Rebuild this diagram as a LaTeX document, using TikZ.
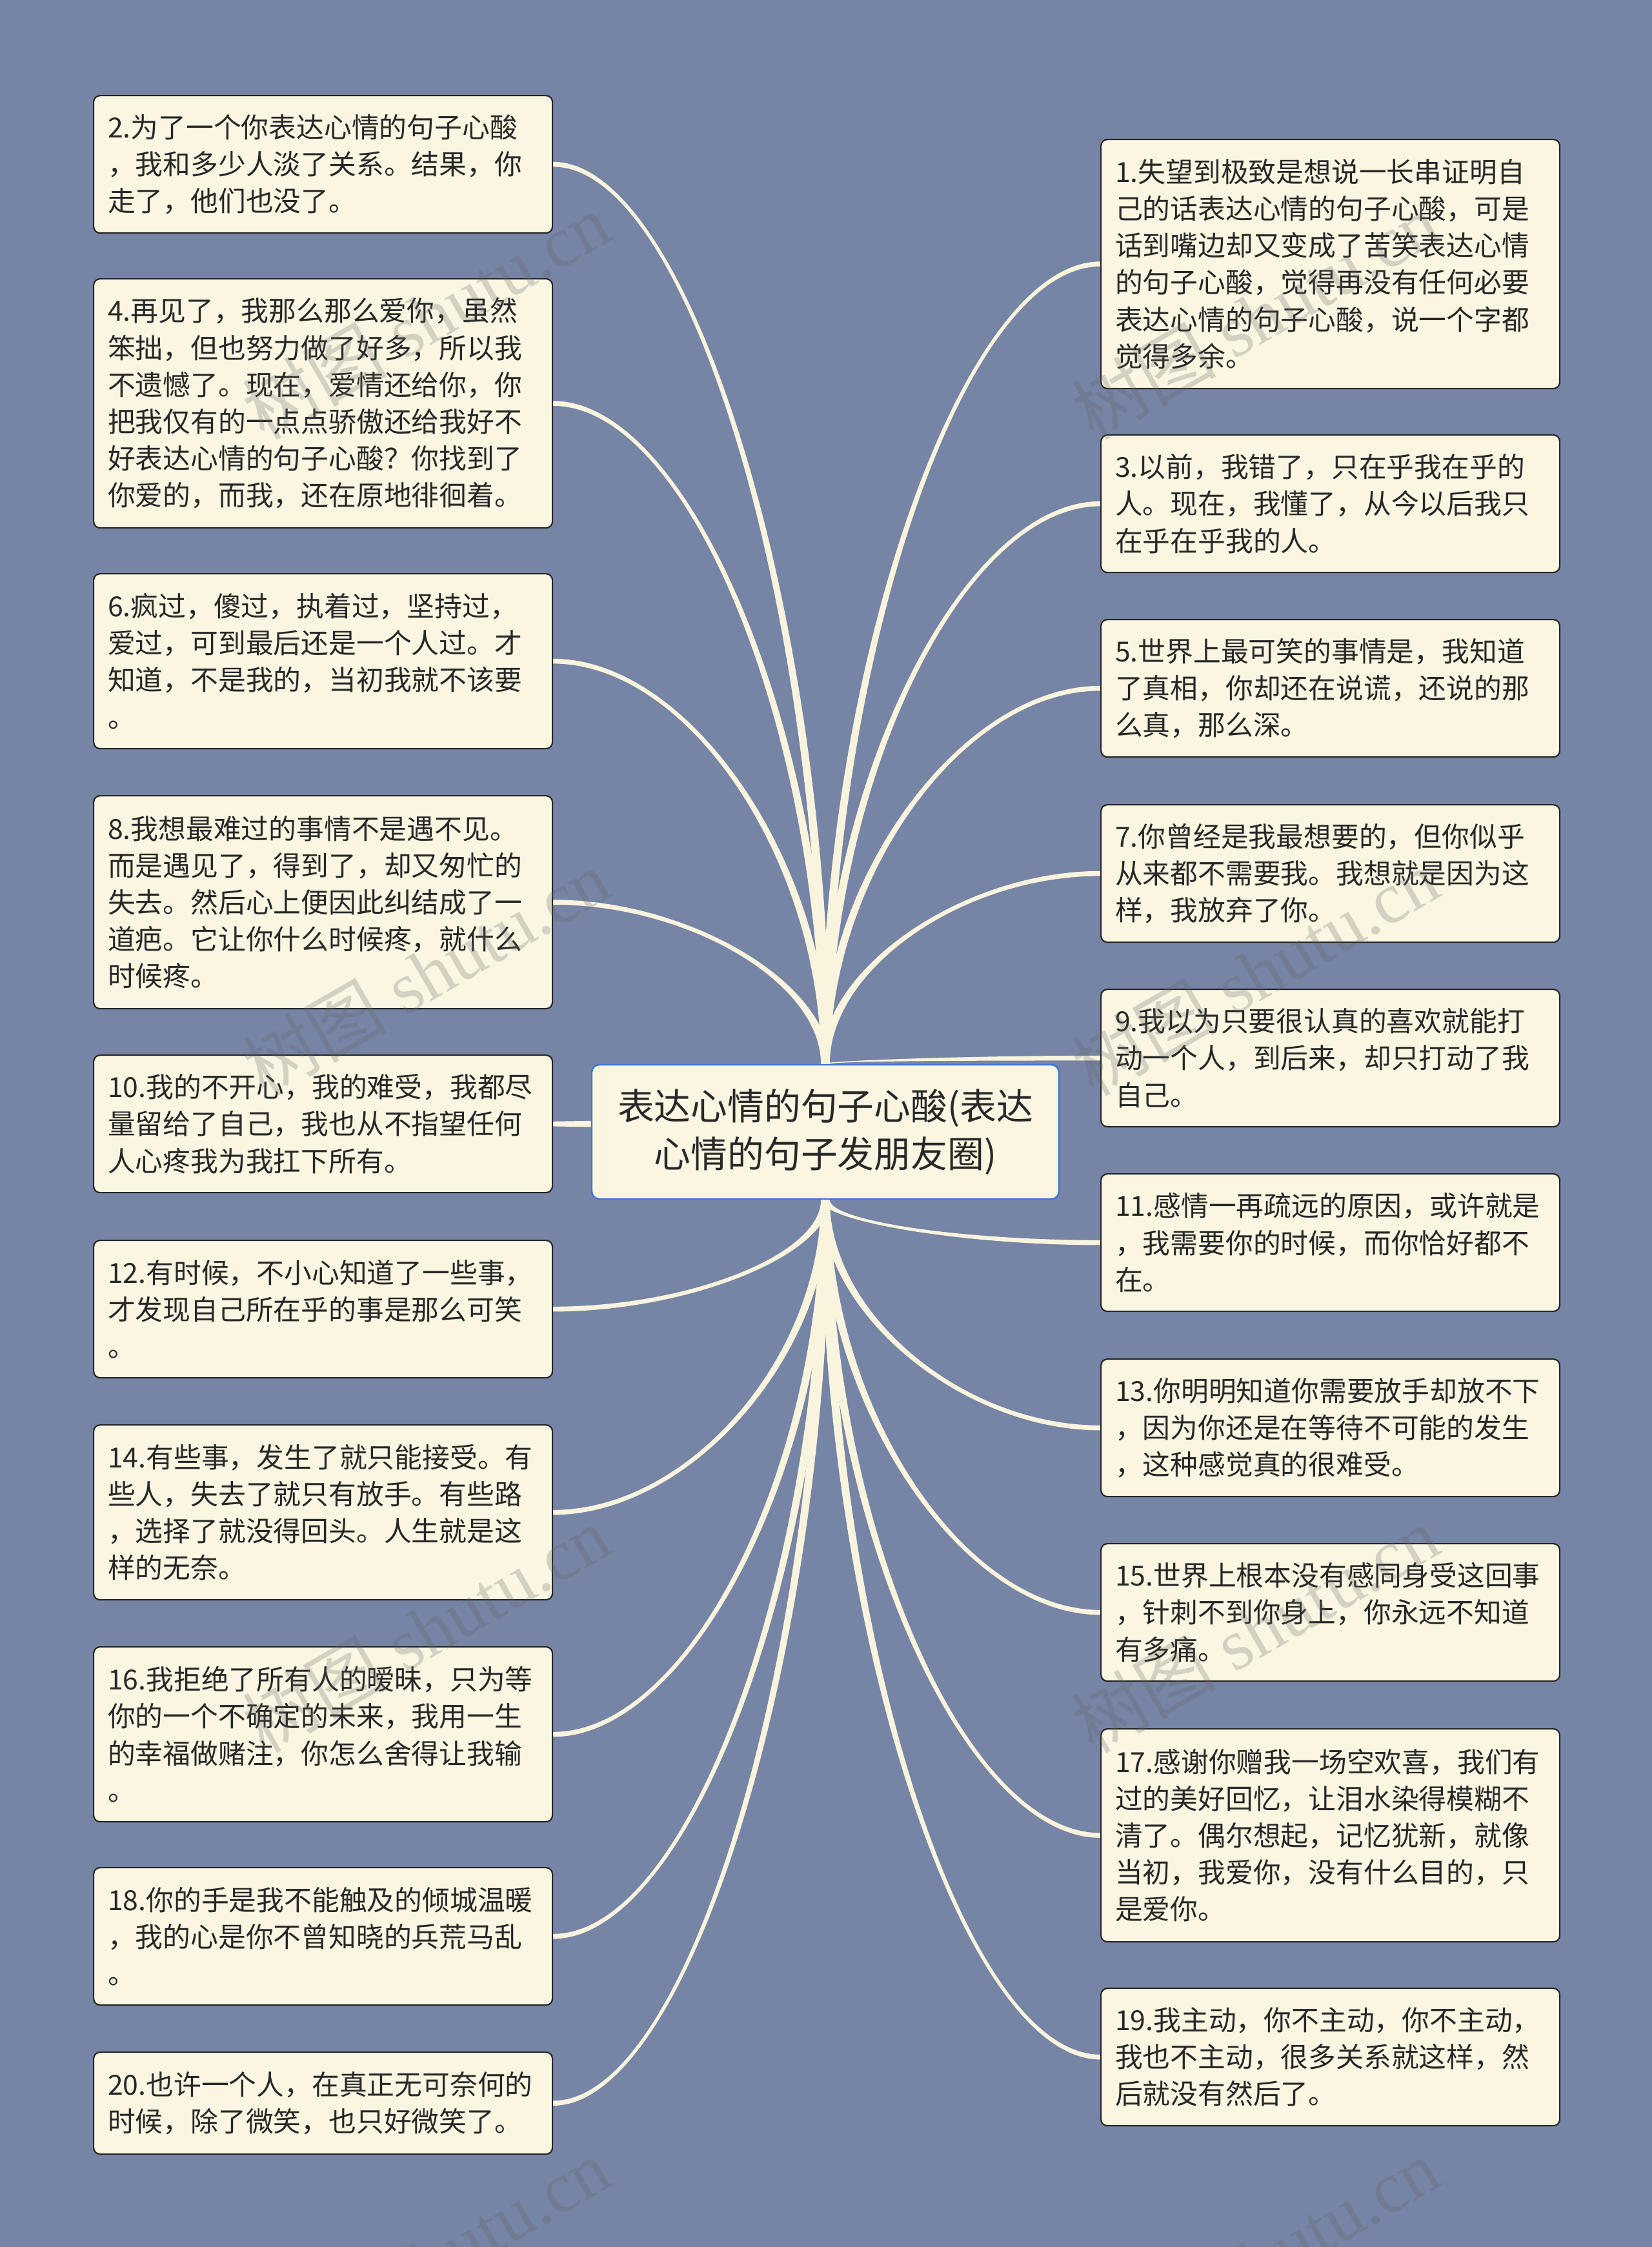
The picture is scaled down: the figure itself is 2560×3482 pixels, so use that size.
\documentclass[tikz,border=0pt]{standalone}
\usepackage{fontspec}
\setmainfont{Noto Sans CJK SC}
\newfontfamily\wmlatin{Liberation Serif}
\usetikzlibrary{calc}
\definecolor{bgc}{RGB}{118,132,165}
\definecolor{cream}{RGB}{250,246,226}
\definecolor{linkc}{RGB}{249,244,222}
\definecolor{rootborder}{RGB}{58,118,214}
\definecolor{txt}{RGB}{40,40,40}
\definecolor{wmc}{RGB}{100,100,100}
\pgfdeclarelayer{bg}
\pgfsetlayers{bg,main}
\newcommand{\leaffont}{\fontsize{10.7pt}{14.3pt}\selectfont}
\newcommand{\rootfont}{\fontsize{14.2pt}{18.3pt}\selectfont}
\newcommand{\wmtext}{\fontsize{28pt}{30pt}\selectfont 树图{\wmlatin{} shutu.cn}}
% tapered link: start anchor, end anchor, sign
\newcommand{\tlink}[3]{%
  \fill[linkc] let \p1=(#1), \p2=(#2), \n1={0.5*(\y1+\y2)}, \n2={0.5*(\x1+\x2)},
    \n3={\y2+(#3)*0.95pt}, \n4={\y2-(#3)*0.95pt} in
    (\x1-1.7pt,\y1) .. controls (\x1-1.7pt,\n1) and (\n2,\n3) .. (\x2,\n3)
    -- (\x2,\n4) .. controls (\n2,\n4) and (\x1+1.7pt,\n1) .. (\x1+1.7pt,\y1) -- cycle;}
\tikzset{
  leaf/.style={draw=black!85, line width=0.55pt, fill=cream, rounded corners=2.5pt,
    anchor=north west, text width=166.75pt, inner xsep=5.5pt, inner ysep=0pt,
    align=left, font=\leaffont, text=txt},
  hA/.style={minimum height=39.5pt},
  hB/.style={minimum height=53.25pt},
  hC/.style={minimum height=67.75pt},
  hD/.style={minimum height=82.5pt},
  hE/.style={minimum height=96.5pt},
  rootbox/.style={draw=rootborder, line width=0.6pt, fill=cream, rounded corners=3pt,
    minimum width=181pt, minimum height=52pt, align=center, font=\rootfont, text=txt,
    inner sep=0pt},
  wm/.style={rotate=30, text=wmc, opacity=0.25, inner sep=0pt}
}
\begin{document}
\begin{tikzpicture}[x=0.25pt, y=-0.25pt]
\useasboundingbox (0,0) rectangle (2560,3482);

\node[rootbox] (root) at (1279,1754) {表达心情的句子心酸(表达\\心情的句子发朋友圈)};

% left column
\node[leaf,hB] (n2) at (144,147) {2.为了一个你表达心情的句子心酸\\，我和多少人淡了关系。结果，你\\走了，他们也没了。};
\node[leaf,hE] (n4) at (144,431) {4.再见了，我那么那么爱你，虽然\\笨拙，但也努力做了好多，所以我\\不遗憾了。现在，爱情还给你，你\\把我仅有的一点点骄傲还给我好不\\好表达心情的句子心酸？你找到了\\你爱的，而我，还在原地徘徊着。};
\node[leaf,hC] (n6) at (144,888) {6.疯过，傻过，执着过，坚持过，\\爱过，可到最后还是一个人过。才\\知道，不是我的，当初我就不该要\\。};
\node[leaf,hD] (n8) at (144,1232) {8.我想最难过的事情不是遇不见。\\而是遇见了，得到了，却又匆忙的\\失去。然后心上便因此纠结成了一\\道疤。它让你什么时候疼，就什么\\时候疼。};
\node[leaf,hB] (n10) at (144,1634) {10.我的不开心，我的难受，我都尽\\量留给了自己，我也从不指望任何\\人心疼我为我扛下所有。};
\node[leaf,hB] (n12) at (144,1921) {12.有时候，不小心知道了一些事，\\才发现自己所在乎的事是那么可笑\\。};
\node[leaf,hC] (n14) at (144,2207) {14.有些事，发生了就只能接受。有\\些人，失去了就只有放手。有些路\\，选择了就没得回头。人生就是这\\样的无奈。};
\node[leaf,hC] (n16) at (144,2551) {16.我拒绝了所有人的暧昧，只为等\\你的一个不确定的未来，我用一生\\的幸福做赌注，你怎么舍得让我输\\。};
\node[leaf,hB] (n18) at (144,2893) {18.你的手是我不能触及的倾城温暖\\，我的心是你不曾知晓的兵荒马乱\\。};
\node[leaf,hA] (n20) at (144,3179) {20.也许一个人，在真正无可奈何的\\时候，除了微笑，也只好微笑了。};

% right column
\node[leaf,hE] (n1) at (1705,215) {1.失望到极致是想说一长串证明自\\己的话表达心情的句子心酸，可是\\话到嘴边却又变成了苦笑表达心情\\的句子心酸，觉得再没有任何必要\\表达心情的句子心酸，说一个字都\\觉得多余。};
\node[leaf,hB] (n3) at (1705,673) {3.以前，我错了，只在乎我在乎的\\人。现在，我懂了，从今以后我只\\在乎在乎我的人。};
\node[leaf,hB] (n5) at (1705,959) {5.世界上最可笑的事情是，我知道\\了真相，你却还在说谎，还说的那\\么真，那么深。};
\node[leaf,hB] (n7) at (1705,1246) {7.你曾经是我最想要的，但你似乎\\从来都不需要我。我想就是因为这\\样，我放弃了你。};
\node[leaf,hB] (n9) at (1705,1532) {9.我以为只要很认真的喜欢就能打\\动一个人，到后来，却只打动了我\\自己。};
\node[leaf,hB] (n11) at (1705,1818) {11.感情一再疏远的原因，或许就是\\，我需要你的时候，而你恰好都不\\在。};
\node[leaf,hB] (n13) at (1705,2105) {13.你明明知道你需要放手却放不下\\，因为你还是在等待不可能的发生\\，这种感觉真的很难受。};
\node[leaf,hB] (n15) at (1705,2391) {15.世界上根本没有感同身受这回事\\，针刺不到你身上，你永远不知道\\有多痛。};
\node[leaf,hD] (n17) at (1705,2678) {17.感谢你赠我一场空欢喜，我们有\\过的美好回忆，让泪水染得模糊不\\清了。偶尔想起，记忆犹新，就像\\当初，我爱你，没有什么目的，只\\是爱你。};
\node[leaf,hB] (n19) at (1705,3080) {19.我主动，你不主动，你不主动，\\我也不主动，很多关系就这样，然\\后就没有然后了。};

\begin{pgfonlayer}{bg}
\fill[bgc] (0,0) rectangle (2560,3482);
% top-left
\tlink{root.north}{n2.east}{-1}
\tlink{root.north}{n4.east}{-1}
\tlink{root.north}{n6.east}{-1}
\tlink{root.north}{n8.east}{-1}
% top-right
\tlink{root.north}{n1.west}{1}
\tlink{root.north}{n3.west}{1}
\tlink{root.north}{n5.west}{1}
\tlink{root.north}{n7.west}{1}
\tlink{root.north}{n9.west}{1}
% bottom-left
\tlink{root.south}{n12.east}{1}
\tlink{root.south}{n14.east}{1}
\tlink{root.south}{n16.east}{1}
\tlink{root.south}{n18.east}{1}
\tlink{root.south}{n20.east}{1}
% bottom-right
\tlink{root.south}{n11.west}{-1}
\tlink{root.south}{n13.west}{-1}
\tlink{root.south}{n15.west}{-1}
\tlink{root.south}{n17.west}{-1}
\tlink{root.south}{n19.west}{-1}
% side link to 10 (straight)
\fill[linkc] let \p1=(root.west |- n10.east), \p2=(n10.east) in
  (\x1,\y1+1.2pt) -- (\x2,\y2+0.95pt) -- (\x2,\y2-0.95pt) -- (\x1,\y1-1.2pt) -- cycle;
\end{pgfonlayer}

% watermarks
\node[wm] (wm1) at (660,490) {\wmtext};
\node[wm] (wm2) at (1945,490) {\wmtext};
\node[wm] (wm3) at (660,1507) {\wmtext};
\node[wm] (wm4) at (1945,1507) {\wmtext};
\node[wm] (wm5) at (660,2525) {\wmtext};
\node[wm] (wm6) at (1945,2525) {\wmtext};
\node[wm] (wm7) at (660,3505) {\wmtext};
\node[wm] (wm8) at (1945,3505) {\wmtext};
\end{tikzpicture}
\end{document}
